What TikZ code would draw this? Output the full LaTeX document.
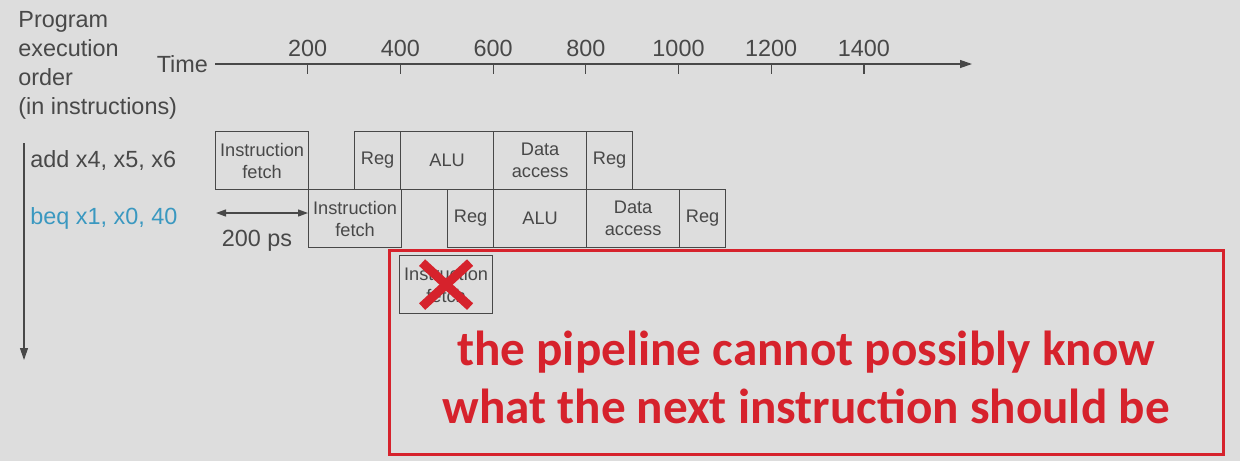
\documentclass[tikz,border=0pt]{standalone}
\usepackage{fontspec}
\setmainfont{Liberation Sans}
\newfontfamily\notefont{Carlito}
\usetikzlibrary{arrows.meta}

\definecolor{paper}{RGB}{221,221,221}
\definecolor{ink}{RGB}{72,72,72}
\definecolor{beqblue}{RGB}{58,152,192}
\definecolor{alarm}{RGB}{214,34,44}

\begin{document}
\begin{tikzpicture}[x=0.5pt,y=-0.5pt]
\tikzstyle{every node}=[font=\fontsize{11.7}{14.5}\selectfont,text=ink]
\tikzstyle{stage}=[draw=ink,line width=0.6pt,anchor=north west,inner sep=0pt,
  minimum height=29pt,align=center,font=\fontsize{9.1}{11}\selectfont]
\tikzstyle{full}=[stage,minimum width=46.5pt]
\tikzstyle{half}=[stage,minimum width=23pt]
\fill[paper](0,0) rectangle (1240,461);

\node[anchor=west,align=left,inner sep=0pt](order) at (18,65.5){Program\\execution\\order\\(in instructions)};
\node[anchor=east](time) at (215,64){Time};
\coordinate (tend) at (972,64);
\draw[-{Triangle[length=6pt,width=4pt]},ink,line width=0.6pt](time.east)--(tend);
\foreach \t in {200,400,...,1400}
  \draw[ink,line width=0.6pt](215+0.4635*\t,64)--(215+0.4635*\t,74)
    node[pos=0,yshift=8pt]{\t};

\node[anchor=west,inner sep=0pt](add) at (30,161){add x4, x5, x6};
\node[anchor=west,inner sep=0pt,text=beqblue](beq) at (30,218){beq x1, x0, 40};
\coordinate (otop) at (24,143);
\coordinate (oend) at (24,360);
\draw[-{Triangle[length=6pt,width=4pt]},ink,line width=0.6pt](otop)--(oend);

\node[full](if1) at (215,131){Instruction\\fetch};
\node[half](rd1) at (354,131){Reg};
\node[full](alu1) at (400,131){ALU};
\node[full](mem1) at (493,131){Data\\access};
\node[half](wb1) at (586,131){Reg};

\node[full](if2) at (308,189){Instruction\\fetch};
\node[half](rd2) at (447,189){Reg};
\node[full](alu2) at (493,189){ALU};
\node[full](mem2) at (586,189){Data\\access};
\node[half](wb2) at (679,189){Reg};

\coordinate (psl) at (216,213);
\draw[{Triangle[length=5pt,width=3.5pt]}-{Triangle[length=5pt,width=3.5pt]},ink,line width=0.6pt]
  (psl)--(if2.west|-psl);
\node(ps) at (257,241){200 ps};

\node[draw=alarm,line width=1.6pt,anchor=north west,minimum width=417pt,minimum height=102pt](note) at (388,249){};
\node[full](if3) at (399,255){Instruction\\fetch};
\draw[alarm,line width=4.5pt](if3.center)++(-24,-22)--++(48,44);
\draw[alarm,line width=4.5pt](if3.center)++(24,-22)--++(-48,44);
\node[text=alarm,align=center,font=\notefont\bfseries\fontsize{24.6}{29}\selectfont](msg) at (806,377)
  {the pipeline cannot possibly know\\what the next instruction should be};
\end{tikzpicture}
\end{document}
